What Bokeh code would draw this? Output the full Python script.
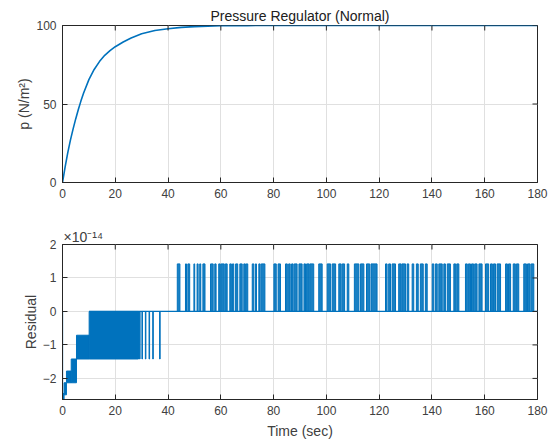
import math
from bokeh.plotting import figure
from bokeh.layouts import column
from bokeh.models import Range1d, FixedTicker, Title
from bokeh.embed import file_html
from bokeh.resources import INLINE

# ---------------- data ----------------
t_pressure = [0, 1, 2, 3, 4, 5, 6, 7, 8, 10, 12, 14, 16, 18, 20, 23, 26, 30, 35, 40, 45, 50, 60, 70, 80, 180]
pressure = [0, 10, 19, 27, 34, 40.5, 46.5, 52, 57, 65.5, 72, 77, 81, 84, 86.5, 89.5, 92, 94.7, 96.8, 97.9, 98.8, 99.3, 99.8, 99.95, 100, 100]

# residual (x1e-14): negative blocks in the first ~40 s
neg_start = [0.0, 0.6, 1.5, 3.3, 5.3, 10.1, 29.2, 30.1, 31.4, 32.8, 34.2, 36.8]
neg_end = [0.6, 1.5, 3.3, 5.3, 10.1, 28.8, 29.4, 30.3, 31.6, 33.0, 34.4, 37.0]
neg_top = [-2.45, -2.13, -1.78, -1.42, -0.71, 0, 0, 0, 0, 0, 0, 0]
neg_bottom = [-2.63, -2.49, -2.13, -2.13, -1.42, -1.42, -1.42, -1.42, -1.42, -1.42, -1.42, -1.42]

# residual positive spikes (level 1.42e-14)
pos_level = 1.42
pos_start = [43.5, 46.6, 47.5, 49.8, 51.0, 52.0, 53.2, 56.1, 57.7, 59.2, 60.1, 61.7, 63.4, 64.4, 65.6, 67.2,
             68.7, 69.6, 71.9, 73.1, 74.4, 75.3, 80.1, 81.7, 84.5, 85.7, 86.8, 87.8, 89.6, 91.5, 92.5, 93.7,
             97.1, 100.3, 102.2, 104.7, 106.0, 107.9, 110.6, 112.9, 115.2, 116.9, 122.4, 123.6, 124.9, 127.4,
             128.6, 130.6, 132.5, 134.1, 135.6, 137.5, 140.1, 141.3, 142.6, 144.5, 145.8, 148.3, 149.4, 152.7,
             153.8, 155.0, 156.2, 157.8, 160.3, 162.2, 163.3, 164.7, 167.9, 169.0, 170.8, 172.0, 174.8, 176.2, 177.6]
pos_end = [44.5, 47.0, 48.2, 50.1, 51.4, 52.4, 54.0, 57.1, 58.2, 59.8, 61.3, 62.4, 64.0, 64.9, 66.4, 68.1,
           69.3, 70.2, 72.5, 73.5, 74.9, 76.7, 81.0, 82.6, 85.2, 86.3, 87.4, 88.9, 90.8, 92.1, 93.4, 95.2,
           98.4, 101.6, 103.5, 105.6, 106.9, 108.5, 112.3, 114.2, 116.4, 119.2, 123.0, 124.3, 126.2, 128.3,
           130.0, 131.2, 133.1, 134.8, 136.7, 138.2, 140.7, 142.0, 143.9, 145.1, 147.0, 149.0, 150.2, 153.4,
           154.6, 155.8, 157.1, 159.0, 161.5, 162.9, 164.1, 166.0, 168.6, 169.8, 171.6, 172.9, 175.8, 177.2, 178.6]

x_ticks = [0, 20, 40, 60, 80, 100, 120, 140, 160, 180]
p_ticks = [0, 50, 100]
r_ticks = [-2, -1, 0, 1, 2]

BLUE = "#0072BD"
AX = "#262626"
TXT = "#404040"
GRID = "#e0e0e0"
FONT = "Liberation Sans"


def style(p, yticks, xr, yr):
    p.xaxis.ticker = FixedTicker(ticks=x_ticks)
    p.yaxis.ticker = FixedTicker(ticks=yticks)
    for ax in [p.xaxis[0], p.yaxis[0]]:
        ax.major_tick_in = 5
        ax.major_tick_out = 0
        ax.minor_tick_line_color = None
        ax.axis_line_color = AX
        ax.major_tick_line_color = AX
        ax.major_label_text_color = TXT
        ax.major_label_text_font = FONT
        ax.major_label_text_font_size = "12px"
        ax.axis_label_text_font = FONT
        ax.axis_label_text_font_size = "14px"
        ax.axis_label_text_font_style = "normal"
        ax.axis_label_text_color = TXT
        ax.major_label_standoff = 6
    p.yaxis.axis_label_standoff = 1
    p.xgrid.ticker = FixedTicker(ticks=x_ticks)
    p.ygrid.ticker = FixedTicker(ticks=yticks)
    p.grid.grid_line_color = GRID
    p.outline_line_color = AX
    p.outline_line_alpha = 1
    # mirrored inward ticks on top and right (box on); half of each dash is clipped by the frame
    p.scatter(x=x_ticks, y=[yr[1]] * len(x_ticks), marker="dash", size=10, angle=math.pi / 2,
              line_color=AX, line_width=1)
    p.scatter(x=[xr[1]] * len(yticks), y=yticks, marker="dash", size=10,
              line_color=AX, line_width=1)


# ---------------- top: pressure ----------------
xr = (0, 180)
yr1 = (0, 100)
p1 = figure(width=555, height=220, output_backend="svg", toolbar_location=None,
            x_range=Range1d(*xr), y_range=Range1d(*yr1),
            min_border_left=62, min_border_right=18, min_border_top=25, min_border_bottom=38)
p1.line(t_pressure, pressure, line_color=BLUE, line_width=1.6)
p1.yaxis.axis_label = "p (N/m²)"
p1.title = Title(text="Pressure Regulator (Normal)", align="center", text_font=FONT,
                 text_font_size="14px", text_font_style="normal", text_color="#202020", standoff=3)
style(p1, p_ticks, xr, yr1)

# ---------------- bottom: residual ----------------
yr2 = (-2.63, 2)
p2 = figure(width=555, height=221, output_backend="svg", toolbar_location=None,
            x_range=Range1d(*xr), y_range=Range1d(*yr2),
            min_border_left=62, min_border_right=18, min_border_top=24, min_border_bottom=41)
p2.segment(x0=[0, 10.1], y0=[0, 0], x1=[0, 180], y1=[-2.63, 0], line_color=BLUE, line_width=1.3)
p2.quad(left=neg_start, right=neg_end, top=neg_top, bottom=neg_bottom,
        fill_color=BLUE, line_color=BLUE, line_width=1)
p2.quad(left=pos_start, right=pos_end, top=[pos_level] * len(pos_start), bottom=[0] * len(pos_start),
        fill_color=BLUE, fill_alpha=0.9, line_color=BLUE, line_width=1)
p2.yaxis.axis_label = "Residual"
p2.xaxis.axis_label = "Time (sec)"
p2.title = Title(text="×10⁻¹⁴", align="left", offset=1, text_font=FONT, text_font_size="14px",
                 text_font_style="normal", text_color=TXT, standoff=0)
style(p2, r_ticks, xr, yr2)

layout = column(p1, p2, spacing=0)
open("out.html", "w").write(file_html(layout, INLINE))
